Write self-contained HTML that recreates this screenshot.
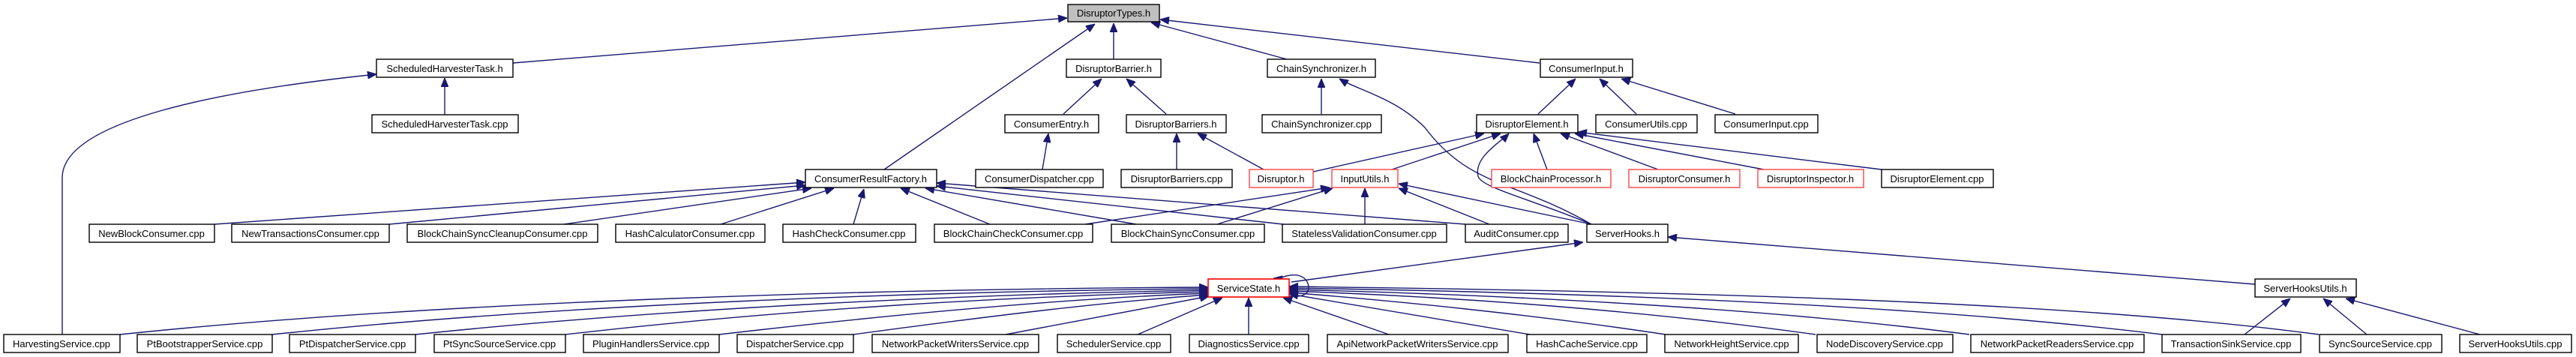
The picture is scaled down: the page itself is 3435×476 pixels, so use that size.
<!DOCTYPE html>
<html><head><meta charset="utf-8"><style>
html,body{margin:0;padding:0;background:#fff;}
svg{display:block;}
text{font-family:"Liberation Sans",Arial,sans-serif;font-size:13px;fill:#000;}
.e{fill:none;stroke:#191970;stroke-width:1.4;}
.b{fill:#fff;stroke:#000;stroke-width:1.4;}
.r{fill:#fff;stroke:#ff4444;stroke-width:1.4;}
</style></head><body>
<svg width="3435" height="476" viewBox="0 0 3435 476" xmlns="http://www.w3.org/2000/svg">
<defs>
<marker id="a" viewBox="0 0 12 10" refX="12" refY="5" markerWidth="12" markerHeight="10" markerUnits="userSpaceOnUse" orient="auto">
<path d="M0,0 L12,5 L0,10 z" fill="#191970" stroke="#191970"/>
</marker>
</defs>
<g class="e" marker-end="url(#a)">
<!-- to DisruptorTypes -->
<path d="M684,84 L1423,24"/>
<path d="M1179,226 L1460,32"/>
<path d="M1485,79 L1485,31"/>
<path d="M1716,79 L1535,30"/>
<path d="M2053,84 L1547,26"/>
<!-- to ScheduledHarvesterTask.h -->
<path d="M593,153 L593,104"/>
<path d="M83,446 L83,237 C83,160 300,120 502,99"/>
<!-- DisruptorBarrier -->
<path d="M1418,152 L1469,105"/>
<path d="M1555,152 L1502,105"/>
<!-- ChainSynchronizer.h -->
<path d="M1762,152 L1762,105"/>
<path d="M2122,299 C2020,240 1960,250 1900,170 C1860,130 1810,120 1786,105"/>
<!-- ConsumerInput.h -->
<path d="M2051,152 L2101,105"/>
<path d="M2182,152 L2133,105"/>
<path d="M2314,152 L2162,105"/>
<!-- ConsumerEntry / DisruptorBarriers -->
<path d="M1390,226 L1398,178"/>
<path d="M1569,226 L1569,178"/>
<path d="M1685,226 L1597,178"/>
<!-- DisruptorElement.h -->
<path d="M1751,229 L1979,178"/>
<path d="M1856,226 L2001,178"/>
<path d="M2122,299 C2040,265 1975,250 1971,235 C1965,210 2000,190 2012,178"/>
<path d="M2063,226 L2045,178"/>
<path d="M2211,226 L2081,178"/>
<path d="M2352,226 L2100,178"/>
<path d="M2509,226 L2104,176"/>
<!-- ConsumerResultFactory.h -->
<path d="M286,299 L1074,243"/>
<path d="M519,299 L1074,247"/>
<path d="M752,299 L1082,251"/>
<path d="M961,299 L1112,251"/>
<path d="M1138,299 L1152,252"/>
<path d="M1320,299 L1201,251"/>
<path d="M1515,299 L1234,251"/>
<path d="M1711,299 L1249,248"/>
<path d="M1954,299 L1249,244"/>
<!-- InputUtils.h -->
<path d="M1447,299 L1773,250"/>
<path d="M1623,299 L1777,251"/>
<path d="M1820,299 L1820,251"/>
<path d="M1986,299 L1865,251"/>
<path d="M2122,299 L1865,245"/>
<!-- ServerHooks.h -->
<path d="M1722,376 L2111,323"/>
<path d="M3007,379 L2224,316"/>
<!-- ServerHooksUtils.h -->
<path d="M2993,446 L3054,398"/>
<path d="M3156,446 L3098,398"/>
<path d="M3307,446 L3128,398"/>
<!-- ServiceState.h left -->
<path d="M160,446 C600,400 1200,385 1611,383"/>
<path d="M363,446 C750,405 1250,388 1611,385"/>
<path d="M554,446 C900,410 1300,392 1611,387"/>
<path d="M754,446 C1050,412 1350,395 1611,389"/>
<path d="M959,446 C1200,418 1420,398 1611,391"/>
<path d="M1138,446 C1330,420 1480,402 1611,393"/>
<path d="M1341,446 L1612,395"/>
<path d="M1517,446 L1630,397"/>
<path d="M1665,446 L1665,397"/>
<path d="M1852,446 L1711,397"/>
<!-- ServiceState.h right -->
<path d="M2040,446 L1719,392"/>
<path d="M2221,446 C2050,420 1850,400 1719,390"/>
<path d="M2421,446 C2200,415 1950,396 1719,388"/>
<path d="M2626,446 C2350,410 2000,393 1719,386"/>
<path d="M2883,446 C2550,405 2100,390 1719,384"/>
<path d="M3092,446 C2750,400 2200,388 1719,382"/>
<path d="M1705,372 C1730,360 1745,370 1745,384 C1745,395 1730,396 1719,395" marker-end="none"/>
<path d="M1705,372 L1698,371"/>
</g>
<!-- Nodes -->
<g>
<rect x="1424" y="6" width="122" height="23" fill="#bfbfbf" stroke="#000" stroke-width="1.4"/><text x="1485" y="22" text-anchor="middle">DisruptorTypes.h</text>

<rect class="b" x="502" y="79" width="182" height="24"/><text x="593" y="96" text-anchor="middle">ScheduledHarvesterTask.h</text>
<rect class="b" x="1422" y="79" width="126" height="24"/><text x="1485" y="96" text-anchor="middle">DisruptorBarrier.h</text>
<rect class="b" x="1690" y="79" width="144" height="24"/><text x="1762" y="96" text-anchor="middle">ChainSynchronizer.h</text>
<rect class="b" x="2054" y="79" width="123" height="24"/><text x="2115" y="96" text-anchor="middle">ConsumerInput.h</text>

<rect class="b" x="496" y="153" width="195" height="24"/><text x="593" y="170" text-anchor="middle">ScheduledHarvesterTask.cpp</text>
<rect class="b" x="1340" y="153" width="125" height="24"/><text x="1402" y="170" text-anchor="middle">ConsumerEntry.h</text>
<rect class="b" x="1502" y="153" width="133" height="24"/><text x="1568" y="170" text-anchor="middle">DisruptorBarriers.h</text>
<rect class="b" x="1683" y="153" width="159" height="24"/><text x="1762" y="170" text-anchor="middle">ChainSynchronizer.cpp</text>
<rect class="b" x="1969" y="153" width="135" height="24"/><text x="2036" y="170" text-anchor="middle">DisruptorElement.h</text>
<rect class="b" x="2128" y="153" width="135" height="24"/><text x="2195" y="170" text-anchor="middle">ConsumerUtils.cpp</text>
<rect class="b" x="2287" y="153" width="137" height="24"/><text x="2355" y="170" text-anchor="middle">ConsumerInput.cpp</text>

<rect class="b" x="1074" y="226" width="175" height="24"/><text x="1161" y="243" text-anchor="middle">ConsumerResultFactory.h</text>
<rect class="b" x="1301" y="226" width="170" height="24"/><text x="1386" y="243" text-anchor="middle">ConsumerDispatcher.cpp</text>
<rect class="b" x="1495" y="226" width="148" height="24"/><text x="1569" y="243" text-anchor="middle">DisruptorBarriers.cpp</text>
<rect class="r" x="1666" y="226" width="85" height="24"/><text x="1708" y="243" text-anchor="middle">Disruptor.h</text>
<rect class="r" x="1776" y="226" width="88" height="24"/><text x="1820" y="243" text-anchor="middle">InputUtils.h</text>
<rect class="r" x="1989" y="226" width="159" height="24"/><text x="2068" y="243" text-anchor="middle">BlockChainProcessor.h</text>
<rect class="r" x="2172" y="226" width="148" height="24"/><text x="2246" y="243" text-anchor="middle">DisruptorConsumer.h</text>
<rect class="r" x="2344" y="226" width="141" height="24"/><text x="2414" y="243" text-anchor="middle">DisruptorInspector.h</text>
<rect class="b" x="2509" y="226" width="149" height="24"/><text x="2583" y="243" text-anchor="middle">DisruptorElement.cpp</text>

<rect class="b" x="119" y="299" width="167" height="24"/><text x="202" y="316" text-anchor="middle">NewBlockConsumer.cpp</text>
<rect class="b" x="309" y="299" width="210" height="24"/><text x="414" y="316" text-anchor="middle">NewTransactionsConsumer.cpp</text>
<rect class="b" x="543" y="299" width="254" height="24"/><text x="670" y="316" text-anchor="middle">BlockChainSyncCleanupConsumer.cpp</text>
<rect class="b" x="821" y="299" width="199" height="24"/><text x="920" y="316" text-anchor="middle">HashCalculatorConsumer.cpp</text>
<rect class="b" x="1044" y="299" width="177" height="24"/><text x="1132" y="316" text-anchor="middle">HashCheckConsumer.cpp</text>
<rect class="b" x="1246" y="299" width="211" height="24"/><text x="1351" y="316" text-anchor="middle">BlockChainCheckConsumer.cpp</text>
<rect class="b" x="1482" y="299" width="204" height="24"/><text x="1584" y="316" text-anchor="middle">BlockChainSyncConsumer.cpp</text>
<rect class="b" x="1710" y="299" width="219" height="24"/><text x="1819" y="316" text-anchor="middle">StatelessValidationConsumer.cpp</text>
<rect class="b" x="1954" y="299" width="137" height="24"/><text x="2022" y="316" text-anchor="middle">AuditConsumer.cpp</text>
<rect class="b" x="2116" y="299" width="108" height="24"/><text x="2170" y="316" text-anchor="middle">ServerHooks.h</text>

<rect x="1611" y="372" width="108" height="24" fill="#fff" stroke="#ff0000" stroke-width="1.6"/><text x="1665" y="389" text-anchor="middle">ServiceState.h</text>
<rect class="b" x="3007" y="372" width="135" height="24"/><text x="3074" y="389" text-anchor="middle">ServerHooksUtils.h</text>

<rect class="b" x="5" y="446" width="155" height="24"/><text x="82" y="463" text-anchor="middle">HarvestingService.cpp</text>
<rect class="b" x="183" y="446" width="180" height="24"/><text x="273" y="463" text-anchor="middle">PtBootstrapperService.cpp</text>
<rect class="b" x="386" y="446" width="168" height="24"/><text x="470" y="463" text-anchor="middle">PtDispatcherService.cpp</text>
<rect class="b" x="579" y="446" width="175" height="24"/><text x="666" y="463" text-anchor="middle">PtSyncSourceService.cpp</text>
<rect class="b" x="778" y="446" width="181" height="24"/><text x="868" y="463" text-anchor="middle">PluginHandlersService.cpp</text>
<rect class="b" x="983" y="446" width="155" height="24"/><text x="1060" y="463" text-anchor="middle">DispatcherService.cpp</text>
<rect class="b" x="1163" y="446" width="222" height="24"/><text x="1274" y="463" text-anchor="middle">NetworkPacketWritersService.cpp</text>
<rect class="b" x="1410" y="446" width="151" height="24"/><text x="1485" y="463" text-anchor="middle">SchedulerService.cpp</text>
<rect class="b" x="1586" y="446" width="159" height="24"/><text x="1665" y="463" text-anchor="middle">DiagnosticsService.cpp</text>
<rect class="b" x="1770" y="446" width="241" height="24"/><text x="1890" y="463" text-anchor="middle">ApiNetworkPacketWritersService.cpp</text>
<rect class="b" x="2036" y="446" width="160" height="24"/><text x="2116" y="463" text-anchor="middle">HashCacheService.cpp</text>
<rect class="b" x="2220" y="446" width="178" height="24"/><text x="2309" y="463" text-anchor="middle">NetworkHeightService.cpp</text>
<rect class="b" x="2423" y="446" width="181" height="24"/><text x="2513" y="463" text-anchor="middle">NodeDiscoveryService.cpp</text>
<rect class="b" x="2628" y="446" width="231" height="24"/><text x="2743" y="463" text-anchor="middle">NetworkPacketReadersService.cpp</text>
<rect class="b" x="2883" y="446" width="185" height="24"/><text x="2975" y="463" text-anchor="middle">TransactionSinkService.cpp</text>
<rect class="b" x="3093" y="446" width="163" height="24"/><text x="3174" y="463" text-anchor="middle">SyncSourceService.cpp</text>
<rect class="b" x="3280" y="446" width="149" height="24"/><text x="3354" y="463" text-anchor="middle">ServerHooksUtils.cpp</text>
</g>
</svg>
</body></html>
